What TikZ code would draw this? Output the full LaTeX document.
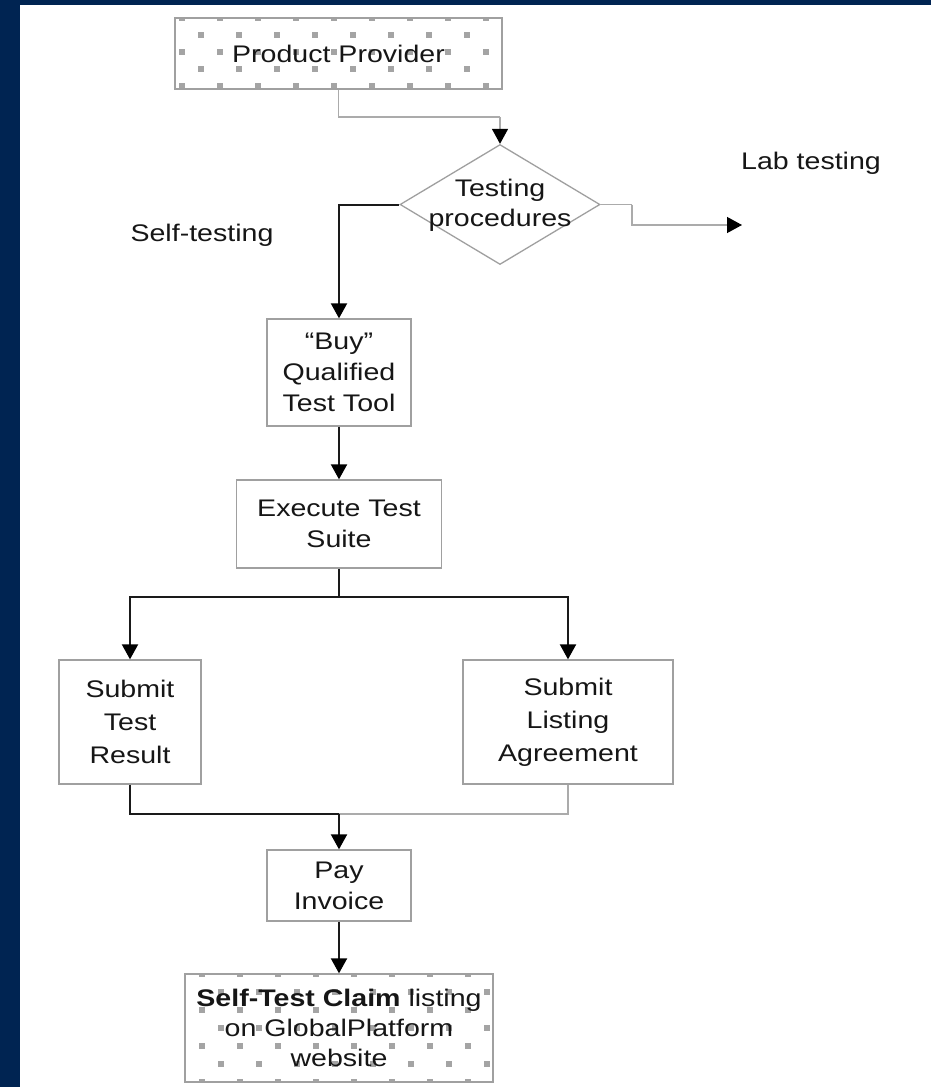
\documentclass[tikz,border=0pt]{standalone}
\usepackage{fontspec}
\setmainfont{Liberation Sans}[FakeStretch=1.19]
\usetikzlibrary{shapes.geometric,arrows.meta}
\definecolor{navy}{HTML}{002452}
\definecolor{boxc}{HTML}{A0A0A0}
\definecolor{dotc}{HTML}{A4A4A4}
\definecolor{linec}{HTML}{ABABAB}
\definecolor{darkl}{HTML}{1A1A1A}
\definecolor{txt}{HTML}{161616}
% #1 x1, #2 y1, #3 x2, #4 y2, #5 x offset, #6 row spacing
\newcommand\patfill[6]{%
  \begin{scope}
    \clip (#1,#2) rectangle (#3,#4);
    \foreach \ri in {0,...,7}{
      \pgfmathsetmacro\yy{#2+#6*\ri}
      \pgfmathsetmacro\xo{#1+#5+19*mod(\ri,2)}
      \foreach \ci in {-1,...,9}{
        \fill[dotc] ({\xo+38*\ci-3},{\yy-3}) rectangle ++(6,6);
      }}
  \end{scope}}
\tikzset{
  box/.style={draw=boxc, line width=1.3pt, align=center, inner sep=0pt,
    font=\fontsize{24}{31}\selectfont, text=txt},
  lbl/.style={font=\fontsize{24}{30}\selectfont, text=txt, inner sep=0pt, align=center},
  tip/.style={-{Triangle[length=15pt,width=16pt,color=black]}},
  dkline/.style={draw=darkl, line width=2pt},
  dk/.style={dkline, tip},
  gyline/.style={draw=linec, line width=1.3pt},
  gy/.style={gyline, tip},
}
\begin{document}
\begin{tikzpicture}[x=1pt,y=-1pt]
  \fill[navy] (0,0) rectangle (931,1087);
  \fill[white] (20,5) rectangle (931,1087);
  \useasboundingbox (0,0) rectangle (931,1087);

  \patfill{175}{18}{502}{89}{7}{17}
  \patfill{185}{974}{493}{1082}{17}{18}

  \node[box, minimum width=327pt, minimum height=71pt] (pp) at (338.5,53.5) {Product Provider};
  \node[draw=boxc, line width=1.3pt, diamond, minimum width=200pt, minimum height=120pt, inner sep=0pt] (dia) at (500,204.5) {};
  \node[lbl] (diat) at (500,205) {Testing\\procedures};
  \node[lbl] (lab) at (811,163) {Lab testing};
  \node[lbl] (self) at (202,235) {Self-testing};

  \node[box, minimum width=144pt, minimum height=107pt] (buy) at (339,372.5) {“Buy”\\Qualified\\Test Tool};
  \node[box, minimum width=205pt, minimum height=88pt] (ex) at (339,524) {Execute Test\\Suite};
  \node[box, minimum width=142pt, minimum height=124pt, font=\fontsize{24}{33}\selectfont] (str) at (130,722) {Submit\\Test\\Result};
  \node[box, minimum width=210pt, minimum height=124pt, font=\fontsize{24}{33}\selectfont] (sla) at (568,722) {Submit\\Listing\\Agreement};
  \node[box, minimum width=144pt, minimum height=71pt] (pay) at (339,885.5) {Pay\\Invoice};
  \node[box, minimum width=308pt, minimum height=108pt, font=\fontsize{24}{30}\selectfont] (stc) at (339,1028) {\textbf{Self-Test Claim} listing\\on GlobalPlatform\\website};

  \coordinate (k1) at (500,117);
  \coordinate (k2) at (632,204.5);
  \coordinate (labend) at (742,225);
  \coordinate (k3) at (339,597);
  \coordinate (k4) at (339,814);

  \draw[gyline] (pp.south) |- (k1);
  \draw[gy] (k1) -- (dia.north);
  \draw[dk] (dia.west) -| (buy.north);
  \draw[gyline] (dia.east) -- (k2);
  \draw[gy] (k2) |- (labend);
  \draw[dk] (buy.south) -- (ex.north);
  \draw[dkline] (ex.south) -- (k3);
  \draw[dk] (k3) -| (str.north);
  \draw[dk] (k3) -| (sla.north);
  \draw[dkline] (str.south) |- (k4);
  \draw[gyline] (sla.south) |- (k4);
  \draw[dk] (k4) -- (pay.north);
  \draw[dk] (pay.south) -- (stc.north);
\end{tikzpicture}
\end{document}
